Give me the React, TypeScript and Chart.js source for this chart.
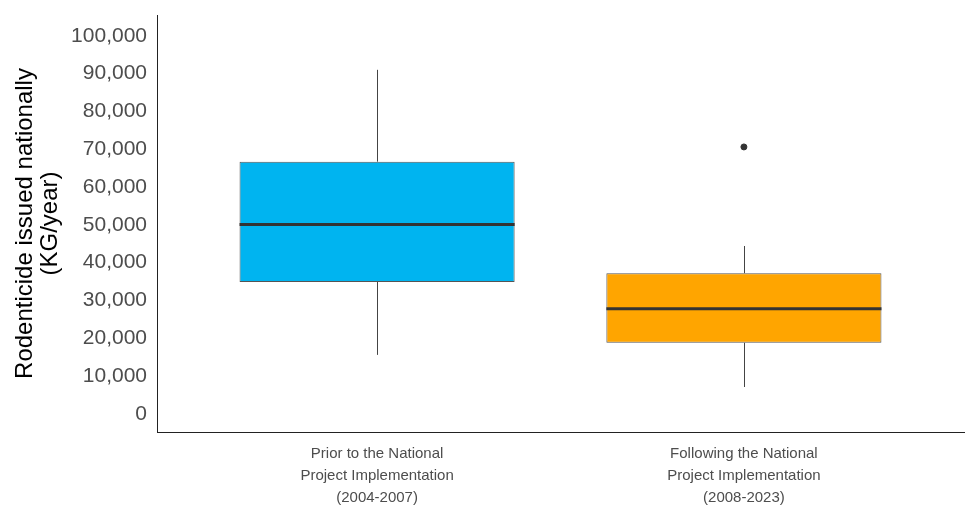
import React, { useEffect, useRef } from "react";
import { Chart, registerables } from "chart.js";

Chart.register(...registerables);

// ---- Data ----
const CATEGORY_LABELS: string[][] = [
  ["Prior to the National", "Project Implementation", "(2004-2007)"],
  ["Following the National", "Project Implementation", "(2008-2023)"],
];
const POSITIONS = [1, 2];
const Q1 = [34900, 18800];
const MEDIAN = [50100, 27800];
const Q3 = [66700, 37200];
const WHISKER_LOW = [15600, 7100];
const WHISKER_HIGH = [91000, 44400];
const OUTLIER_GROUP = [2];
const OUTLIER_VALUE = [70600];
const Y_TICKS = [0, 10000, 20000, 30000, 40000, 50000, 60000, 70000, 80000, 90000, 100000];
const BOX_COLORS = ["#00B4F0", "#FFA500"];

const boxPlugin = {
  id: "boxParts",
  beforeDatasetsDraw(chart: any) {
    const { ctx, scales } = chart;
    const xs = scales.x;
    const ys = scales.y;
    ctx.save();
    ctx.strokeStyle = "#444444";
    ctx.lineWidth = 1;
    POSITIONS.forEach((p, i) => {
      const x = Math.round(xs.getPixelForValue(p)) + 0.5;
      ctx.beginPath();
      ctx.moveTo(x, ys.getPixelForValue(WHISKER_HIGH[i]));
      ctx.lineTo(x, ys.getPixelForValue(Q3[i]));
      ctx.moveTo(x, ys.getPixelForValue(Q1[i]));
      ctx.lineTo(x, ys.getPixelForValue(WHISKER_LOW[i]));
      ctx.stroke();
    });
    ctx.restore();
  },
  afterDatasetsDraw(chart: any) {
    const { ctx, scales } = chart;
    const ys = scales.y;
    const meta = chart.getDatasetMeta(0);
    ctx.save();
    ctx.strokeStyle = "#333333";
    ctx.lineWidth = 3;
    meta.data.forEach((el: any, i: number) => {
      const { x, width } = el.getProps(["x", "width"], true);
      const y = ys.getPixelForValue(MEDIAN[i]);
      ctx.beginPath();
      ctx.moveTo(x - width / 2, y);
      ctx.lineTo(x + width / 2, y);
      ctx.stroke();
    });
    ctx.restore();
  },
};

export default function App() {
  const ref = useRef<HTMLCanvasElement | null>(null);

  useEffect(() => {
    if (!ref.current) return;
    const chart = new Chart(ref.current, {
      type: "bar",
      data: {
        datasets: [
          {
            type: "bar",
            data: POSITIONS.map((p, i) => ({ x: p, y: [Q1[i], Q3[i]] })) as any,
            backgroundColor: BOX_COLORS,
            borderColor: "#555555",
            borderWidth: 1,
            borderSkipped: false,
            barPercentage: 0.75,
            categoryPercentage: 1,
          } as any,
          {
            type: "scatter",
            data: OUTLIER_GROUP.map((g, i) => ({ x: g, y: OUTLIER_VALUE[i] })),
            backgroundColor: "#333333",
            borderColor: "#333333",
            pointRadius: 3,
            pointStyle: "circle",
          } as any,
        ],
      },
      options: {
        animation: false,
        responsive: false,
        maintainAspectRatio: false,
        layout: { autoPadding: false, padding: { top: 15, right: 1, left: 0, bottom: 0 } },
        plugins: { legend: { display: false }, tooltip: { enabled: false } },
        scales: {
          x: {
            type: "linear",
            min: 0.4,
            max: 2.6,
            offset: false,
            grid: { display: false, drawTicks: false, offset: false },
            border: { display: true, color: "#222222", width: 1 },
            afterBuildTicks: (scale: any) => {
              scale.ticks = POSITIONS.map((v) => ({ value: v }));
            },
            afterFit: (scale: any) => {
              scale.height = 78;
              scale.paddingLeft = 0;
              scale.paddingRight = 0;
            },
            ticks: {
              autoSkip: false,
              maxRotation: 0,
              padding: 11,
              color: "#4d4d4d",
              font: { family: "'Liberation Sans', Arial, sans-serif", size: 15, lineHeight: 1.45 },
              callback: (_v: any, idx: number) => CATEGORY_LABELS[idx],
            },
          },
          y: {
            type: "linear",
            min: -4800,
            max: 105500,
            grid: { display: false, drawTicks: false },
            border: { display: true, color: "#222222", width: 1 },
            afterBuildTicks: (scale: any) => {
              scale.ticks = Y_TICKS.map((v) => ({ value: v }));
            },
            afterFit: (scale: any) => {
              scale.width = 157;
              scale.paddingTop = 0;
              scale.paddingBottom = 0;
            },
            ticks: {
              padding: 10,
              color: "#4d4d4d",
              font: { family: "'Liberation Sans', Arial, sans-serif", size: 21 },
              callback: (v: any) => Number(v).toLocaleString("en-US"),
            },
            title: {
              display: true,
              text: ["Rodenticide issued nationally", "(KG/year)"],
              color: "#000000",
              padding: { top: 13, bottom: 0 },
              font: { family: "'Liberation Sans', Arial, sans-serif", size: 24, lineHeight: 1.05 },
            },
          },
        },
      },
      plugins: [boxPlugin],
    });
    return () => chart.destroy();
  }, []);

  return (
    <div style={{ position: "fixed", left: 0, top: 0, width: 965, height: 510, background: "#fff" }}>
      <canvas ref={ref} width={965} height={510} style={{ display: "block" }} />
    </div>
  );
}
